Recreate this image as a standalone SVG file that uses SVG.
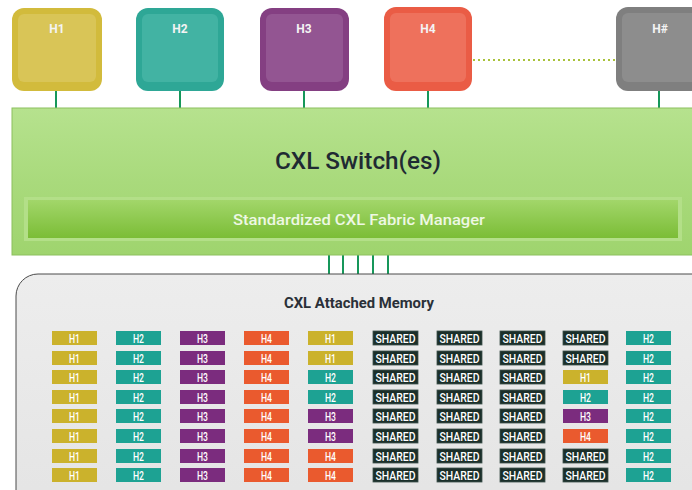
<svg xmlns="http://www.w3.org/2000/svg" xmlns:xlink="http://www.w3.org/1999/xlink" width="692" height="490" viewBox="0 0 692 490">
  <style>
    .hostlbl { font-family: Roboto, "Liberation Sans", sans-serif; font-weight: bold; font-size: 12px; fill: #f4f4f4; text-anchor: middle; }
    .wire { stroke: #16975a; stroke-width: 2; fill: none; }
    .dots { stroke: #a9c23a; stroke-width: 2; stroke-dasharray: 2 3; fill: none; }
    .title { font-family: Roboto, "Liberation Sans", sans-serif; font-weight: 500; font-size: 24px; fill: #1f2a33; text-anchor: middle; }
    .fm { font-family: Roboto, "Liberation Sans", sans-serif; font-weight: 500; font-size: 14px; fill: #eef8e4; text-anchor: middle; }
    .memtitle { font-family: Roboto, "Liberation Sans", sans-serif; font-weight: bold; font-size: 14px; fill: #2a3038; text-anchor: middle; }
    .ct { font-family: Roboto, "Liberation Sans", sans-serif; font-weight: 500; font-size: 13.5px; fill: #ffffff; text-anchor: middle; }
    .h1 { fill: #cbb22c; }
    .h2 { fill: #1da293; }
    .h3 { fill: #7b2c7e; }
    .h4 { fill: #ea5a2e; }
    .sh { fill: #1b2f2a; stroke: #3e524c; stroke-width: 0.8; }
  </style>
  <defs>
    <linearGradient id="gSwitch" x1="0" y1="0" x2="0" y2="1">
      <stop offset="0" stop-color="#b6e28e"/>
      <stop offset="0.5" stop-color="#a9da7c"/>
      <stop offset="1" stop-color="#9fd46e"/>
    </linearGradient>
    <linearGradient id="gFm" x1="0" y1="0" x2="0" y2="1">
      <stop offset="0" stop-color="#a2d66a"/>
      <stop offset="1" stop-color="#7bbd36"/>
    </linearGradient>
    <linearGradient id="gMem" x1="0" y1="0" x2="0" y2="1">
      <stop offset="0" stop-color="#ededed"/>
      <stop offset="1" stop-color="#e4e4e4"/>
    </linearGradient>
    <g id="m-h1"><rect class="h1" width="45" height="14"/><text class="ct" x="22.5" y="12" textLength="11" lengthAdjust="spacingAndGlyphs">H1</text></g>
    <g id="m-h2"><rect class="h2" width="45" height="14"/><text class="ct" x="22.5" y="12" textLength="11" lengthAdjust="spacingAndGlyphs">H2</text></g>
    <g id="m-h3"><rect class="h3" width="45" height="14"/><text class="ct" x="22.5" y="12" textLength="11" lengthAdjust="spacingAndGlyphs">H3</text></g>
    <g id="m-h4"><rect class="h4" width="45" height="14"/><text class="ct" x="22.5" y="12" textLength="11" lengthAdjust="spacingAndGlyphs">H4</text></g>
    <g id="m-sh"><rect class="sh" width="45" height="14"/><text class="ct" x="22.5" y="12" textLength="40" lengthAdjust="spacingAndGlyphs">SHARED</text></g>
  </defs>

  <rect width="692" height="490" fill="#ffffff"/>

  <!-- connectors -->
  <g id="connectors">
    <line class="wire" x1="56" y1="90" x2="56" y2="108"/>
    <line class="wire" x1="180" y1="90" x2="180" y2="108"/>
    <line class="wire" x1="304" y1="90" x2="304" y2="108"/>
    <line class="wire" x1="428" y1="90" x2="428" y2="108"/>
    <line class="wire" x1="659" y1="90" x2="659" y2="108"/>
    <line class="dots" x1="473" y1="60" x2="616" y2="60"/>
    <line class="wire" x1="329" y1="255" x2="329" y2="274"/>
    <line class="wire" x1="343" y1="255" x2="343" y2="274"/>
    <line class="wire" x1="358" y1="255" x2="358" y2="274"/>
    <line class="wire" x1="373" y1="255" x2="373" y2="274"/>
    <line class="wire" x1="388" y1="255" x2="388" y2="274"/>
  </g>

  <!-- hosts -->
  <g id="host-h1">
    <rect x="12" y="8" width="90" height="83" rx="12" fill="#d2bb3c"/>
    <rect x="18" y="14" width="78" height="68" rx="6" fill="#dcc963" opacity="0.7"/>
    <text class="hostlbl" x="57" y="33">H1</text>
  </g>
  <g id="host-h2">
    <rect x="136" y="8" width="88" height="83" rx="12" fill="#2ea796"/>
    <rect x="142" y="14" width="76" height="68" rx="6" fill="#4cb8a8" opacity="0.7"/>
    <text class="hostlbl" x="180" y="33">H2</text>
  </g>
  <g id="host-h3">
    <rect x="260" y="8" width="89" height="83" rx="12" fill="#843f82"/>
    <rect x="266" y="14" width="77" height="68" rx="6" fill="#9a5f98" opacity="0.7"/>
    <text class="hostlbl" x="304" y="33">H3</text>
  </g>
  <g id="host-h4">
    <rect x="384" y="7" width="88" height="84" rx="12" fill="#ea5c45"/>
    <rect x="390" y="13" width="76" height="69" rx="6" fill="#f07a66" opacity="0.7"/>
    <text class="hostlbl" x="428" y="33">H4</text>
  </g>
  <g id="host-hn">
    <rect x="616" y="7" width="90" height="84" rx="12" fill="#7f7f7f"/>
    <rect x="622" y="13" width="78" height="69" rx="6" fill="#939393" opacity="0.7"/>
    <text class="hostlbl" x="660" y="33">H#</text>
  </g>

  <!-- switch -->
  <g id="switch">
    <rect x="12" y="108" width="684" height="147" fill="url(#gSwitch)" stroke="#8cc05e" stroke-width="1"/>
    <text class="title" x="358" y="169" textLength="166" lengthAdjust="spacingAndGlyphs">CXL Switch(es)</text>
    <g id="fabric-manager">
      <rect x="24" y="197" width="658" height="44" fill="#b3df88"/>
      <rect x="28" y="200" width="650" height="38" fill="url(#gFm)"/>
      <text class="fm" x="359" y="225" textLength="252" lengthAdjust="spacingAndGlyphs">Standardized CXL Fabric Manager</text>
    </g>
  </g>

  <!-- attached memory -->
  <g id="memory">
    <rect x="16" y="274" width="700" height="240" rx="22" fill="url(#gMem)" stroke="#4a4a4a" stroke-width="1"/>
    <text class="memtitle" x="359" y="308" textLength="150" lengthAdjust="spacingAndGlyphs">CXL Attached Memory</text>
    <g id="memory-grid">
      <!-- column 1 -->
      <use href="#m-h1" x="52" y="331"/><use href="#m-h1" x="52" y="351"/><use href="#m-h1" x="52" y="370"/><use href="#m-h1" x="52" y="390"/>
      <use href="#m-h1" x="52" y="409"/><use href="#m-h1" x="52" y="429"/><use href="#m-h1" x="52" y="449"/><use href="#m-h1" x="52" y="468"/>
      <!-- column 2 -->
      <use href="#m-h2" x="116" y="331"/><use href="#m-h2" x="116" y="351"/><use href="#m-h2" x="116" y="370"/><use href="#m-h2" x="116" y="390"/>
      <use href="#m-h2" x="116" y="409"/><use href="#m-h2" x="116" y="429"/><use href="#m-h2" x="116" y="449"/><use href="#m-h2" x="116" y="468"/>
      <!-- column 3 -->
      <use href="#m-h3" x="180" y="331"/><use href="#m-h3" x="180" y="351"/><use href="#m-h3" x="180" y="370"/><use href="#m-h3" x="180" y="390"/>
      <use href="#m-h3" x="180" y="409"/><use href="#m-h3" x="180" y="429"/><use href="#m-h3" x="180" y="449"/><use href="#m-h3" x="180" y="468"/>
      <!-- column 4 -->
      <use href="#m-h4" x="244" y="331"/><use href="#m-h4" x="244" y="351"/><use href="#m-h4" x="244" y="370"/><use href="#m-h4" x="244" y="390"/>
      <use href="#m-h4" x="244" y="409"/><use href="#m-h4" x="244" y="429"/><use href="#m-h4" x="244" y="449"/><use href="#m-h4" x="244" y="468"/>
      <!-- column 5 -->
      <use href="#m-h1" x="308" y="331"/><use href="#m-h1" x="308" y="351"/><use href="#m-h2" x="308" y="370"/><use href="#m-h2" x="308" y="390"/>
      <use href="#m-h3" x="308" y="409"/><use href="#m-h3" x="308" y="429"/><use href="#m-h4" x="308" y="449"/><use href="#m-h4" x="308" y="468"/>
      <!-- column 6 -->
      <use href="#m-sh" x="373" y="331"/><use href="#m-sh" x="373" y="351"/><use href="#m-sh" x="373" y="370"/><use href="#m-sh" x="373" y="390"/>
      <use href="#m-sh" x="373" y="409"/><use href="#m-sh" x="373" y="429"/><use href="#m-sh" x="373" y="449"/><use href="#m-sh" x="373" y="468"/>
      <!-- column 7 -->
      <use href="#m-sh" x="437" y="331"/><use href="#m-sh" x="437" y="351"/><use href="#m-sh" x="437" y="370"/><use href="#m-sh" x="437" y="390"/>
      <use href="#m-sh" x="437" y="409"/><use href="#m-sh" x="437" y="429"/><use href="#m-sh" x="437" y="449"/><use href="#m-sh" x="437" y="468"/>
      <!-- column 8 -->
      <use href="#m-sh" x="500" y="331"/><use href="#m-sh" x="500" y="351"/><use href="#m-sh" x="500" y="370"/><use href="#m-sh" x="500" y="390"/>
      <use href="#m-sh" x="500" y="409"/><use href="#m-sh" x="500" y="429"/><use href="#m-sh" x="500" y="449"/><use href="#m-sh" x="500" y="468"/>
      <!-- column 9 -->
      <use href="#m-sh" x="563" y="331"/><use href="#m-sh" x="563" y="351"/><use href="#m-h1" x="563" y="370"/><use href="#m-h2" x="563" y="390"/>
      <use href="#m-h3" x="563" y="409"/><use href="#m-h4" x="563" y="429"/><use href="#m-sh" x="563" y="449"/><use href="#m-sh" x="563" y="468"/>
      <!-- column 10 -->
      <use href="#m-h2" x="626" y="331"/><use href="#m-h2" x="626" y="351"/><use href="#m-h2" x="626" y="370"/><use href="#m-h2" x="626" y="390"/>
      <use href="#m-h2" x="626" y="409"/><use href="#m-h2" x="626" y="429"/><use href="#m-h2" x="626" y="449"/><use href="#m-h2" x="626" y="468"/>
    </g>
  </g>
</svg>
